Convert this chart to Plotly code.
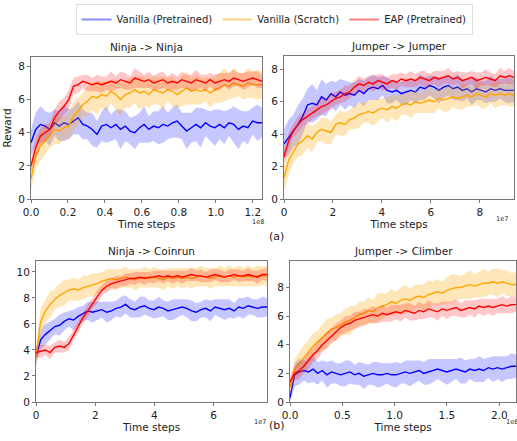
import numpy as np
import plotly.graph_objects as go

# ---------------- data ----------------
panel_titles = ["Ninja -> Ninja", "Jumper -> Jumper", "Ninja -> Coinrun", "Jumper -> Climber"]
series_names = ["Vanilla (Pretrained)", "Vanilla (Scratch)", "EAP (Pretrained)"]
x_max = [1.25, 9.4, 7.8, 2.16]          # in units of the axis exponent
x_exponent = ["1e8", "1e7", "1e7", "1e8"]

# Ninja -> Ninja
p1_blue = [3.4, 4.2, 4.5, 4.4, 4.2, 4.6, 4.4, 4.6, 4.5, 4.7, 4.9, 4.5, 4.4, 4.2, 3.9, 4.4, 4.5, 4.3, 4.5, 4.2,
           4.4, 4.1, 4.0, 4.3, 4.5, 4.2, 4.4, 4.3, 4.5, 4.4, 4.6, 4.7, 4.4, 4.1, 4.3, 4.5, 4.3, 4.6, 4.4, 4.3,
           4.5, 4.3, 4.6, 4.5, 4.2, 4.4, 4.3, 4.7, 4.6, 4.6]
p1_blue_sd = [0.8, 1.0, 1.1, 0.9, 1.0, 0.8, 0.9, 1.1, 0.9, 0.8, 1.0, 0.9, 0.8, 1.0, 0.8, 0.9, 1.1, 0.8, 0.9, 1.2,
              0.9, 0.8, 1.0, 0.9, 1.1, 0.8, 0.9, 1.0, 1.1, 0.8, 0.9, 1.0, 0.8, 1.1, 0.9, 1.0, 1.2, 0.8, 0.9, 1.1,
              0.9, 1.0, 0.8, 1.1, 1.2, 0.9, 1.0, 0.8, 1.1, 0.9]
p1_orange = [1.2, 2.6, 3.2, 3.5, 3.8, 4.2, 4.1, 4.3, 4.4, 5.0, 5.3, 5.7, 5.9, 6.2, 6.1, 6.3, 6.2, 6.5, 6.3, 6.0,
             6.3, 6.4, 6.6, 6.4, 6.5, 6.3, 6.6, 6.5, 6.4, 6.6, 6.5, 6.3, 6.5, 6.7, 6.5, 6.6, 6.5, 6.6, 6.4, 6.6,
             6.7, 6.9, 6.8, 7.0, 6.9, 6.8, 7.0, 6.9, 6.9, 6.9]
p1_orange_sd = [0.7, 0.8, 0.9, 0.8, 0.7, 0.9, 0.8, 0.7, 0.8, 0.9, 0.8, 0.7, 0.9, 0.8, 1.0, 0.8, 0.9, 0.7, 0.9, 1.0,
                0.8, 0.9, 0.8, 1.0, 0.9, 0.8, 0.9, 0.8, 1.0, 0.7, 0.9, 0.8, 0.9, 1.0, 0.8, 0.9, 0.8, 0.7, 0.9, 0.8,
                0.9, 1.0, 0.8, 0.9, 0.7, 0.8, 0.9, 0.8, 0.9, 0.8]
p1_red = [2.0, 3.1, 3.8, 4.0, 4.2, 4.9, 5.3, 5.6, 6.0, 6.8, 6.9, 7.1, 7.0, 6.9, 7.0, 6.9, 7.0, 7.1, 7.0, 7.2,
          7.1, 7.0, 7.3, 7.2, 7.1, 7.2, 7.0, 7.1, 7.2, 7.0, 7.1, 7.0, 7.2, 7.1, 7.0, 7.2, 7.1, 7.0, 7.2, 7.0,
          7.1, 7.2, 7.1, 7.3, 7.2, 7.1, 7.2, 7.3, 7.2, 7.1]
p1_red_sd = [0.4, 0.6, 0.5, 0.5, 0.4, 0.5, 0.6, 0.5, 0.6, 0.5, 0.5, 0.4, 0.5, 0.4, 0.5, 0.5, 0.4, 0.6, 0.4, 0.5,
             0.5, 0.4, 0.6, 0.5, 0.4, 0.5, 0.4, 0.5, 0.5, 0.4, 0.5, 0.4, 0.5, 0.4, 0.5, 0.6, 0.4, 0.5, 0.4, 0.5,
             0.5, 0.4, 0.5, 0.5, 0.4, 0.5, 0.5, 0.4, 0.5, 0.4]

# Jumper -> Jumper
p2_blue = [3.4, 3.8, 4.2, 4.6, 5.1, 5.8, 5.9, 5.8, 6.3, 6.1, 6.5, 6.3, 6.6, 6.4, 6.5, 6.4, 6.7, 6.5, 6.8, 6.9,
           6.8, 7.0, 6.7, 6.6, 6.7, 6.5, 6.6, 6.7, 6.6, 6.9, 6.8, 7.0, 6.9, 6.7, 6.9, 7.0, 6.8, 6.9, 6.7, 6.8,
           6.6, 6.8, 6.7, 6.6, 6.8, 6.7, 6.8, 6.7, 6.7, 6.7]
p2_blue_sd = [0.9, 1.1, 1.0, 1.2, 1.1, 1.0, 1.2, 0.9, 1.1, 1.0, 0.8, 0.9, 0.8, 0.9, 0.7, 0.8, 0.7, 0.8, 0.7, 0.8,
              0.7, 0.6, 0.8, 0.7, 0.6, 0.7, 0.8, 0.6, 0.7, 0.8, 0.7, 0.6, 0.7, 0.8, 0.7, 0.6, 0.7, 0.8, 0.7, 0.6,
              0.8, 0.7, 0.6, 0.7, 0.8, 0.7, 0.6, 0.7, 0.8, 0.7]
p2_orange = [1.3, 2.4, 2.9, 3.4, 3.6, 3.9, 3.7, 4.1, 4.3, 4.2, 4.1, 4.6, 4.7, 4.6, 4.9, 5.0, 5.2, 5.3, 5.4, 5.3,
             5.5, 5.6, 5.5, 5.7, 5.6, 5.8, 5.9, 5.8, 6.0, 5.9, 6.0, 6.1, 6.0, 6.2, 6.1, 6.2, 6.3, 6.2, 6.3, 6.4,
             6.3, 6.5, 6.4, 6.3, 6.5, 6.4, 6.5, 6.4, 6.5, 6.4]
p2_orange_sd = [0.8, 0.9, 0.7, 0.8, 0.9, 0.7, 0.8, 0.6, 0.7, 0.8, 0.7, 0.6, 0.8, 0.7, 0.6, 0.7, 0.8, 0.6, 0.7, 0.8,
                0.7, 0.6, 0.8, 0.7, 0.8, 0.6, 0.7, 0.8, 0.7, 0.6, 0.7, 0.8, 0.7, 0.6, 0.7, 0.8, 0.6, 0.7, 0.8, 0.7,
                0.6, 0.7, 0.8, 0.7, 0.6, 0.8, 0.7, 0.6, 0.8, 0.7]
p2_red = [2.6, 3.6, 4.2, 4.6, 4.9, 5.1, 5.3, 5.5, 5.7, 5.8, 6.0, 6.2, 6.3, 6.5, 6.6, 6.9, 7.1, 7.0, 7.2, 7.1,
          7.3, 7.2, 7.1, 7.3, 7.2, 7.4, 7.3, 7.4, 7.3, 7.5, 7.4, 7.3, 7.5, 7.4, 7.5, 7.6, 7.4, 7.5, 7.3, 7.4,
          7.5, 7.3, 7.4, 7.5, 7.4, 7.3, 7.6, 7.5, 7.6, 7.5]
p2_red_sd = [0.4, 0.5, 0.4, 0.5, 0.4, 0.5, 0.4, 0.4, 0.5, 0.4, 0.5, 0.4, 0.4, 0.5, 0.4, 0.4, 0.5, 0.4, 0.4, 0.5,
             0.4, 0.5, 0.4, 0.4, 0.5, 0.4, 0.4, 0.5, 0.4, 0.4, 0.5, 0.4, 0.4, 0.5, 0.4, 0.5, 0.4, 0.4, 0.5, 0.4,
             0.4, 0.5, 0.4, 0.5, 0.4, 0.4, 0.5, 0.4, 0.5, 0.4]

# Ninja -> Coinrun
p3_blue = [3.5, 4.8, 5.2, 5.5, 5.8, 5.9, 6.2, 6.4, 6.3, 6.6, 6.8, 7.0, 6.9, 7.0, 7.1, 6.9, 7.0, 7.2, 7.3, 7.5,
           7.2, 7.1, 7.3, 7.4, 7.2, 7.1, 7.3, 7.2, 7.0, 7.1, 7.2, 7.3, 7.2, 7.0, 6.9, 7.1, 7.2, 7.0, 7.3, 7.2,
           7.1, 7.2, 7.0, 7.3, 7.2, 7.4, 7.3, 7.2, 7.3, 7.3]
p3_blue_sd = [0.6, 0.7, 0.8, 0.7, 0.6, 0.8, 0.7, 0.6, 0.8, 0.7, 0.6, 0.7, 0.8, 0.7, 0.6, 0.8, 0.7, 0.6, 0.8, 0.7,
              0.7, 0.6, 0.8, 0.7, 0.6, 0.7, 0.8, 0.6, 0.7, 0.8, 0.7, 0.6, 0.7, 0.8, 0.7, 0.6, 0.7, 0.8, 0.6, 0.7,
              0.8, 0.7, 0.6, 0.7, 0.8, 0.7, 0.6, 0.7, 0.8, 0.7]
p3_orange = [3.5, 6.2, 7.0, 7.5, 7.9, 8.2, 8.4, 8.6, 8.7, 8.6, 8.8, 8.9, 9.0, 9.1, 9.3, 9.4, 9.5, 9.4, 9.5, 9.6,
             9.5, 9.4, 9.5, 9.6, 9.5, 9.6, 9.5, 9.4, 9.6, 9.5, 9.6, 9.5, 9.6, 9.5, 9.6, 9.7, 9.6, 9.5, 9.6, 9.7,
             9.6, 9.7, 9.6, 9.7, 9.6, 9.7, 9.6, 9.7, 9.7, 9.7]
p3_orange_sd = [0.8, 1.0, 0.9, 1.0, 0.8, 0.9, 1.0, 0.8, 0.9, 0.8, 0.9, 0.8, 0.9, 0.8, 0.7, 0.8, 0.7, 0.8, 0.7, 0.8,
                0.7, 0.8, 0.7, 0.8, 0.7, 0.8, 0.7, 0.8, 0.7, 0.8, 0.7, 0.8, 0.7, 0.8, 0.7, 0.8, 0.7, 0.8, 0.7, 0.8,
                0.7, 0.8, 0.7, 0.8, 0.7, 0.8, 0.7, 0.8, 0.7, 0.8]
p3_red = [3.8, 3.9, 4.0, 3.8, 4.2, 4.3, 4.2, 4.5, 5.2, 5.8, 6.5, 7.0, 7.6, 8.1, 8.6, 8.9, 9.1, 9.2, 9.3, 9.4,
          9.5, 9.5, 9.6, 9.5, 9.6, 9.6, 9.7, 9.6, 9.7, 9.6, 9.7, 9.6, 9.7, 9.8, 9.7, 9.7, 9.6, 9.7, 9.8, 9.7,
          9.6, 9.7, 9.8, 9.7, 9.7, 9.8, 9.7, 9.6, 9.8, 9.8]
p3_red_sd = [0.4, 0.5, 0.4, 0.5, 0.4, 0.5, 0.4, 0.5, 0.4, 0.5, 0.4, 0.5, 0.4, 0.5, 0.4, 0.5, 0.4, 0.5, 0.4, 0.5,
             0.4, 0.5, 0.4, 0.5, 0.4, 0.5, 0.4, 0.5, 0.4, 0.5, 0.4, 0.5, 0.4, 0.5, 0.4, 0.5, 0.4, 0.5, 0.4, 0.5,
             0.4, 0.5, 0.4, 0.5, 0.4, 0.5, 0.4, 0.5, 0.4, 0.5]

# Jumper -> Climber
p4_blue = [0.3, 1.9, 2.1, 2.2, 2.1, 2.3, 2.0, 2.2, 1.9, 2.1, 2.0, 1.9, 2.0, 2.1, 1.9, 2.0, 1.8, 1.9, 2.0, 1.9,
           1.9, 2.0, 1.9, 1.9, 2.0, 2.1, 2.0, 2.1, 2.2, 2.0, 2.1, 2.2, 2.3, 2.2, 2.1, 2.2, 2.3, 2.2, 2.1, 2.3,
           2.2, 2.3, 2.2, 2.4, 2.3, 2.4, 2.3, 2.4, 2.5, 2.5]
p4_blue_sd = [0.3, 0.8, 0.9, 0.7, 0.8, 0.9, 0.8, 0.7, 0.9, 0.8, 0.7, 0.8, 0.9, 0.8, 0.7, 0.8, 0.9, 0.7, 0.8, 0.9,
              0.8, 0.7, 0.8, 0.9, 0.7, 0.8, 0.9, 0.8, 0.7, 0.8, 0.9, 0.8, 0.7, 0.8, 0.9, 0.8, 0.7, 0.9, 0.8, 0.7,
              0.8, 0.9, 0.8, 0.7, 0.9, 0.8, 0.9, 0.8, 0.9, 0.8]
p4_orange = [1.0, 2.3, 2.7, 3.1, 3.5, 3.9, 4.2, 4.5, 4.8, 5.1, 5.2, 5.4, 5.6, 5.7, 5.9, 6.1, 6.2, 6.4, 6.3, 6.6,
             6.7, 6.8, 7.0, 6.9, 7.1, 7.2, 7.1, 7.3, 7.4, 7.3, 7.5, 7.6, 7.7, 7.6, 7.8, 7.9, 8.0, 8.0, 8.1, 8.2,
             8.1, 8.2, 8.3, 8.3, 8.4, 8.3, 8.4, 8.3, 8.2, 8.2]
p4_orange_sd = [0.5, 0.7, 0.8, 0.9, 0.8, 0.9, 0.8, 0.9, 1.0, 0.8, 0.9, 0.8, 0.9, 1.0, 0.8, 0.9, 0.8, 0.9, 0.8, 1.0,
                0.9, 0.8, 0.9, 0.8, 0.9, 1.0, 0.8, 0.9, 0.8, 0.9, 1.0, 0.8, 0.9, 0.8, 0.9, 1.0, 0.9, 0.8, 0.9, 1.0,
                0.8, 0.9, 1.0, 0.8, 0.9, 1.0, 0.8, 0.9, 0.8, 0.9]
p4_red = [1.4, 2.0, 2.2, 2.5, 2.9, 3.3, 3.6, 4.0, 4.3, 4.6, 4.9, 5.2, 5.4, 5.5, 5.7, 5.8, 5.9, 6.0, 6.1, 6.0,
          6.2, 6.1, 6.2, 6.3, 6.2, 6.4, 6.3, 6.2, 6.4, 6.3, 6.5, 6.4, 6.3, 6.5, 6.4, 6.5, 6.6, 6.4, 6.5, 6.6,
          6.5, 6.7, 6.6, 6.7, 6.6, 6.7, 6.8, 6.7, 6.8, 6.8]
p4_red_sd = [0.4, 0.5, 0.6, 0.5, 0.6, 0.5, 0.6, 0.5, 0.6, 0.5, 0.6, 0.5, 0.6, 0.5, 0.6, 0.5, 0.6, 0.5, 0.6, 0.5,
             0.6, 0.5, 0.6, 0.5, 0.6, 0.5, 0.6, 0.5, 0.6, 0.5, 0.6, 0.5, 0.6, 0.5, 0.6, 0.5, 0.6, 0.5, 0.6, 0.5,
             0.6, 0.5, 0.6, 0.5, 0.6, 0.5, 0.6, 0.5, 0.6, 0.5]

panels = [
    [(p1_blue, p1_blue_sd), (p1_orange, p1_orange_sd), (p1_red, p1_red_sd)],
    [(p2_blue, p2_blue_sd), (p2_orange, p2_orange_sd), (p2_red, p2_red_sd)],
    [(p3_blue, p3_blue_sd), (p3_orange, p3_orange_sd), (p3_red, p3_red_sd)],
    [(p4_blue, p4_blue_sd), (p4_orange, p4_orange_sd), (p4_red, p4_red_sd)],
]

# ---------------- styling ----------------
W, H = 517, 441
line_colors = ["rgb(0,0,255)", "rgb(255,165,0)", "rgb(255,0,0)"]
band_colors = ["rgba(0,0,255,0.22)", "rgba(255,165,0,0.28)", "rgba(255,0,0,0.22)"]
legend_colors = ["rgba(0,0,255,0.45)", "rgba(255,165,0,0.5)", "rgba(255,0,0,0.5)"]

# pixel boxes (left, right, top, bottom)
boxes = [(31, 262, 57, 199), (284, 514, 56, 199), (36, 267, 261, 402), (290, 516, 261, 402)]
exp_pos = [(258, 222), (502, 219), (260, 422), (512, 422)]
y_ranges = [8.57, 8.82, 10.84, 9.85]
x_dticks = [0.2, 2, 2, 0.5]
x_formats = [".1f", "d", "d", ".1f"]
y_dticks = [2, 2, 2, 2]

FONT = "DejaVu Sans"
fig = go.Figure()

for pi, series in enumerate(panels):
    ax = "" if pi == 0 else str(pi + 1)
    for si, (mean, sd) in enumerate(series):
        n = len(mean)
        x = np.linspace(0, x_max[pi], n)
        m = np.array(mean)
        s = np.array(sd)
        upper = m + s
        lower = np.clip(m - s, 0, None)
        fig.add_trace(go.Scatter(x=x, y=upper, mode="lines", line=dict(width=0, color=band_colors[si]),
                                 xaxis="x" + ax, yaxis="y" + ax, showlegend=False, hoverinfo="skip"))
        fig.add_trace(go.Scatter(x=x, y=lower, mode="lines", line=dict(width=0, color=band_colors[si]),
                                 fill="tonexty", fillcolor=band_colors[si],
                                 xaxis="x" + ax, yaxis="y" + ax, showlegend=False, hoverinfo="skip"))
        fig.add_trace(go.Scatter(x=x, y=m, mode="lines", line=dict(width=1.4, color=line_colors[si]),
                                 xaxis="x" + ax, yaxis="y" + ax, showlegend=False, name=series_names[si]))

# legend entries
for si in range(3):
    fig.add_trace(go.Scatter(x=[None], y=[None], mode="lines", name=series_names[si],
                             line=dict(width=2, color=legend_colors[si]), showlegend=True))

layout = dict(
    width=W, height=H, margin=dict(l=0, r=0, t=0, b=0, autoexpand=False),
    paper_bgcolor="white", plot_bgcolor="white",
    font=dict(family=FONT, size=10, color="#222"),
    showlegend=True,
    legend=dict(orientation="h", x=0.53, xanchor="center", y=1 - 4 / H, yanchor="top",
                bordercolor="#ddd", borderwidth=1, font=dict(size=10, family=FONT, color="#222"),
                itemwidth=30, tracegroupgap=0, traceorder="normal"),
)

annotations = []
for pi in range(4):
    l, r, t, b = boxes[pi]
    ax = "" if pi == 0 else str(pi + 1)
    xd = [l / W, r / W]
    yd = [1 - b / H, 1 - t / H]
    common = dict(showgrid=False, zeroline=False, showline=True, linecolor="#777", linewidth=1,
                  mirror=True, ticks="outside", ticklen=3, tickcolor="#777", automargin=False,
                  tickfont=dict(size=10.5, family=FONT, color="#222"))
    layout["xaxis" + ax] = dict(domain=xd, anchor="y" + ax, range=[0, x_max[pi]], dtick=x_dticks[pi], tick0=0,
                                tickformat=x_formats[pi],
                                title=dict(text="Time steps", font=dict(size=10.5), standoff=2), **common)
    layout["yaxis" + ax] = dict(domain=yd, anchor="x" + ax, range=[0, y_ranges[pi]], dtick=y_dticks[pi], tick0=0,
                                **common)
    annotations.append(dict(text=panel_titles[pi], x=(l + r) / 2 / W, y=1 - (t - 2) / H, xref="paper", yref="paper",
                            xanchor="center", yanchor="bottom", showarrow=False,
                            font=dict(size=10.5, family=FONT, color="#222")))
    ex, ey = exp_pos[pi]
    annotations.append(dict(text=x_exponent[pi], x=ex / W, y=1 - ey / H, xref="paper",
                            yref="paper", xanchor="center", yanchor="middle", showarrow=False,
                            font=dict(size=6.5, family=FONT, color="#222")))

layout["yaxis"]["title"] = dict(text="Reward", font=dict(size=10.5), standoff=4)
annotations.append(dict(text="(a)", x=276 / W, y=1 - 236 / H, xref="paper", yref="paper", showarrow=False,
                        font=dict(size=11, family=FONT, color="#222")))
annotations.append(dict(text="(b)", x=277 / W, y=1 - 434 / H, xref="paper", yref="paper", showarrow=False,
                        font=dict(size=11, family=FONT, color="#222")))
layout["annotations"] = annotations
fig.update_layout(**layout)

fig.write_html("out.html", config={"displayModeBar": False},
               post_script="document.body.style.margin='0';document.body.style.padding='0';")
